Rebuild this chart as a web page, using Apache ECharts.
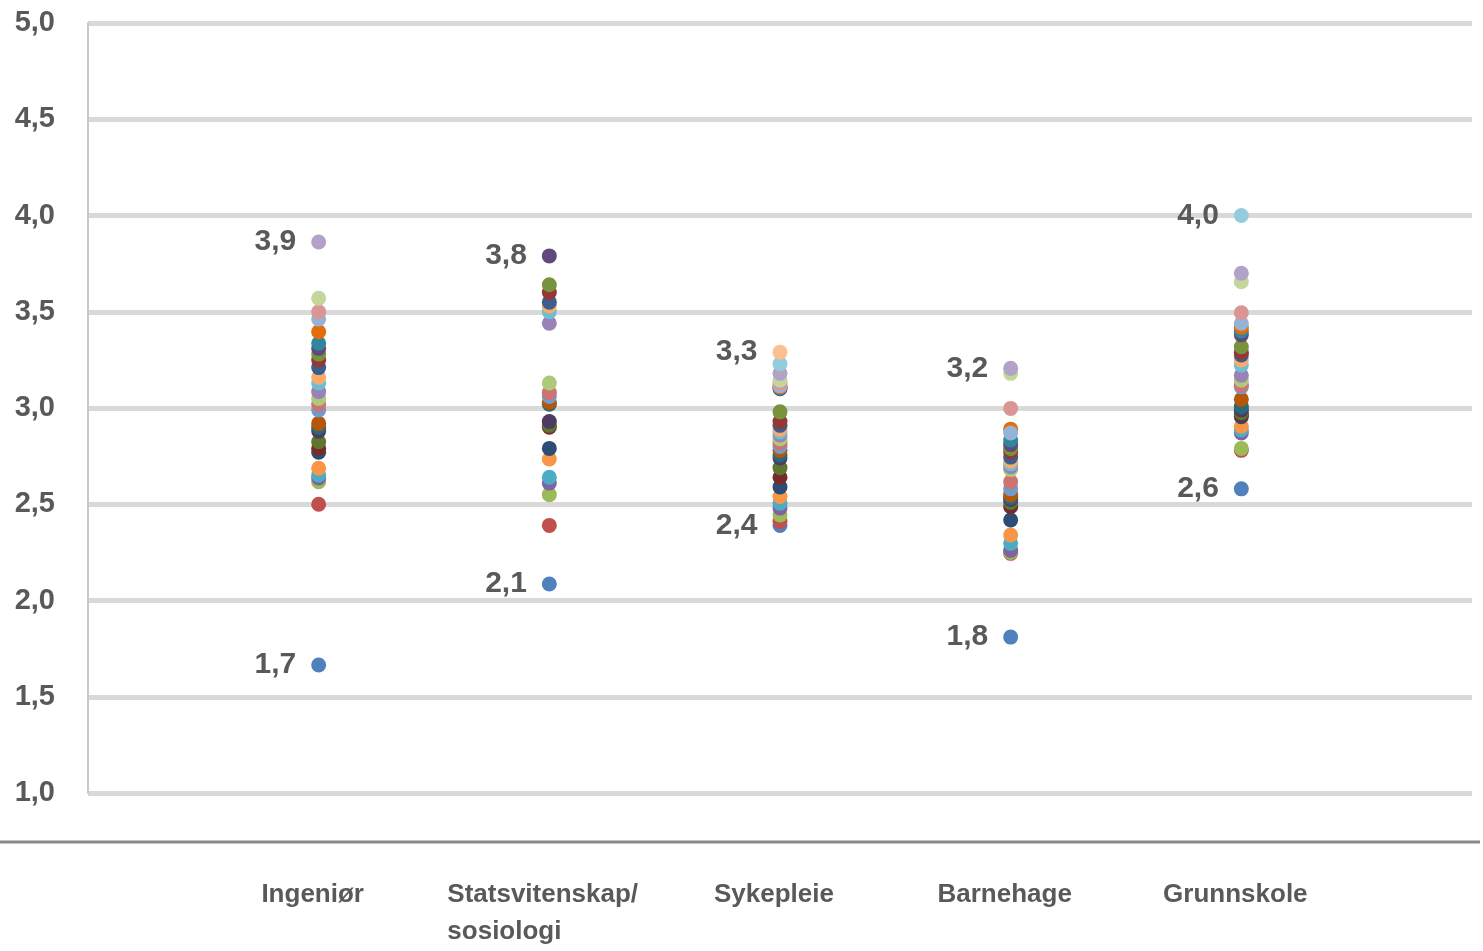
<!DOCTYPE html>
<html>
<head>
<meta charset="utf-8">
<script src="https://cdn.jsdelivr.net/npm/echarts@6/dist/echarts.min.js"></script>
<style>
  html, body { margin: 0; padding: 0; background: #ffffff; }
  #chart { width: 1483px; height: 951px; }
</style>
</head>
<body>
<div id="chart"></div>
<script>
// Categories (x positions 1..5)
const categories = ['Ingeniør', 'Statsvitenskap/\nsosiologi', 'Sykepleie', 'Barnehage', 'Grunnskole'];

// Y-axis ticks
const yMin = 1.0, yMax = 5.0, yStep = 0.5;

// Values per category, ascending (series index = position in list)
const ingenior = [1.665, 2.50, 2.617, 2.636, 2.652, 2.687, 2.77, 2.79, 2.825, 2.88, 2.90, 2.92, 2.99, 3.02, 3.05, 3.085, 3.13, 3.16, 3.21, 3.25, 3.28, 3.31, 3.336, 3.396, 3.462, 3.50, 3.57, 3.862];
const statsvitenskap = [2.086, 2.39, 2.55, 2.61, 2.64, 2.735, 2.79, 2.90, 2.91, 2.93, 3.02, 3.03, 3.06, 3.08, 3.13, 3.44, 3.50, 3.53, 3.55, 3.60, 3.64, 3.79];
const sykepleie = [2.39, 2.41, 2.444, 2.48, 2.505, 2.54, 2.59, 2.64, 2.69, 2.74, 2.756, 2.78, 2.80, 2.82, 2.84, 2.86, 2.875, 2.89, 2.91, 2.93, 2.98, 3.10, 3.105, 3.11, 3.115, 3.13, 3.145, 3.18, 3.23, 3.29];
const barnehage = [1.81, 2.245, 2.25, 2.26, 2.297, 2.34, 2.418, 2.487, 2.51, 2.525, 2.535, 2.55, 2.58, 2.617, 2.68, 2.695, 2.71, 2.725, 2.745, 2.773, 2.79, 2.81, 2.834, 2.89, 2.87, 2.998, 3.18, 3.206];
const grunnskole = [2.58, 2.78, 2.79, 2.87, 2.886, 2.905, 2.955, 2.965, 2.975, 2.99, 3.007, 3.045, 3.11, 3.12, 3.145, 3.17, 3.223, 3.25, 3.275, 3.29, 3.318, 3.38, 3.40, 3.42, 3.44, 3.495, 3.656, 3.70, 4.00];

const columns = [ingenior, statsvitenskap, sykepleie, barnehage, grunnskole];

// Series colours (Excel-style sequence)
const palette = [
  '#4F81BD', '#C0504D', '#9BBB59', '#8064A2', '#4BACC6', '#F79646',
  '#2C4D75', '#772C2A', '#5F7530', '#4D3B62', '#276A7C', '#B65708',
  '#729ACA', '#CD7371', '#AFC97A', '#9983B5', '#6FBDD1', '#F9AB6B',
  '#3A5F8E', '#953735', '#77933C', '#604A7B', '#31859C', '#E46C0A',
  '#95B3D7', '#D99694', '#C3D69B', '#B3A2C7', '#93CDDD', '#FAC090'
];

const FONT = "'Liberation Sans', Arial, sans-serif";
const TXT = '#595959';
const fmt = v => v.toFixed(1).replace('.', ',');

const colMin = columns.map(c => Math.min(...c));
const colMax = columns.map(c => Math.max(...c));

const series = palette.map((color, i) => {
  const data = [];
  columns.forEach((col, j) => {
    if (col[i] == null) return;
    const v = col[i];
    const isExtreme = (v === colMin[j] || v === colMax[j]);
    const item = { value: [j + 1, v] };
    if (isExtreme) {
      item.label = {
        show: true, position: 'left', distance: 15,
        formatter: p => fmt(p.value[1]),
        fontFamily: FONT, fontSize: 30, fontWeight: 'bold', color: TXT
      };
    }
    data.push(item);
  });
  return {
    type: 'scatter',
    symbol: 'circle',
    symbolSize: 15,
    itemStyle: { color: color, opacity: 1 },
    label: { show: false },
    emphasis: { disabled: true },
    data: data
  };
});

const chart = echarts.init(document.getElementById('chart'));
chart.setOption({
  animation: false,
  backgroundColor: '#ffffff',
  grid: { left: 88, right: 11, top: 23, height: 770, containLabel: false },
  xAxis: {
    type: 'value', min: 0, max: categories.length + 1, interval: 1,
    axisLine: { show: false }, axisTick: { show: false }, splitLine: { show: false },
    axisLabel: {
      margin: 83,
      verticalAlign: 'top',
      padding: [0, 12, 0, 0],
      fontFamily: FONT, fontSize: 26, fontWeight: 'bold', color: TXT,
      lineHeight: 37,
      formatter: v => {
        const c = categories[v - 1];
        if (!c) return '';
        if (c.indexOf('\n') >= 0) return c.split('\n').map(s => '{l|' + s + '}').join('\n');
        return c;
      },
      rich: { l: { width: 192, align: 'left', fontFamily: FONT, fontSize: 26, fontWeight: 'bold', color: TXT, lineHeight: 37 } }
    }
  },
  yAxis: {
    type: 'value', min: yMin, max: yMax, interval: yStep,
    axisLine: { show: true, lineStyle: { color: '#c8c8c8', width: 2 } },
    axisTick: { show: false },
    splitLine: { show: true, lineStyle: { color: '#d9d9d9', width: 5 } },
    axisLabel: {
      margin: 33,
      fontFamily: FONT, fontSize: 29, fontWeight: 'bold', color: TXT,
      formatter: v => fmt(v)
    }
  },
  graphic: [{
    type: 'line',
    shape: { x1: 0, y1: 842, x2: 1480, y2: 842 },
    style: { stroke: '#888888', lineWidth: 3 }
  }],
  series: series
});
</script>
</body>
</html>
